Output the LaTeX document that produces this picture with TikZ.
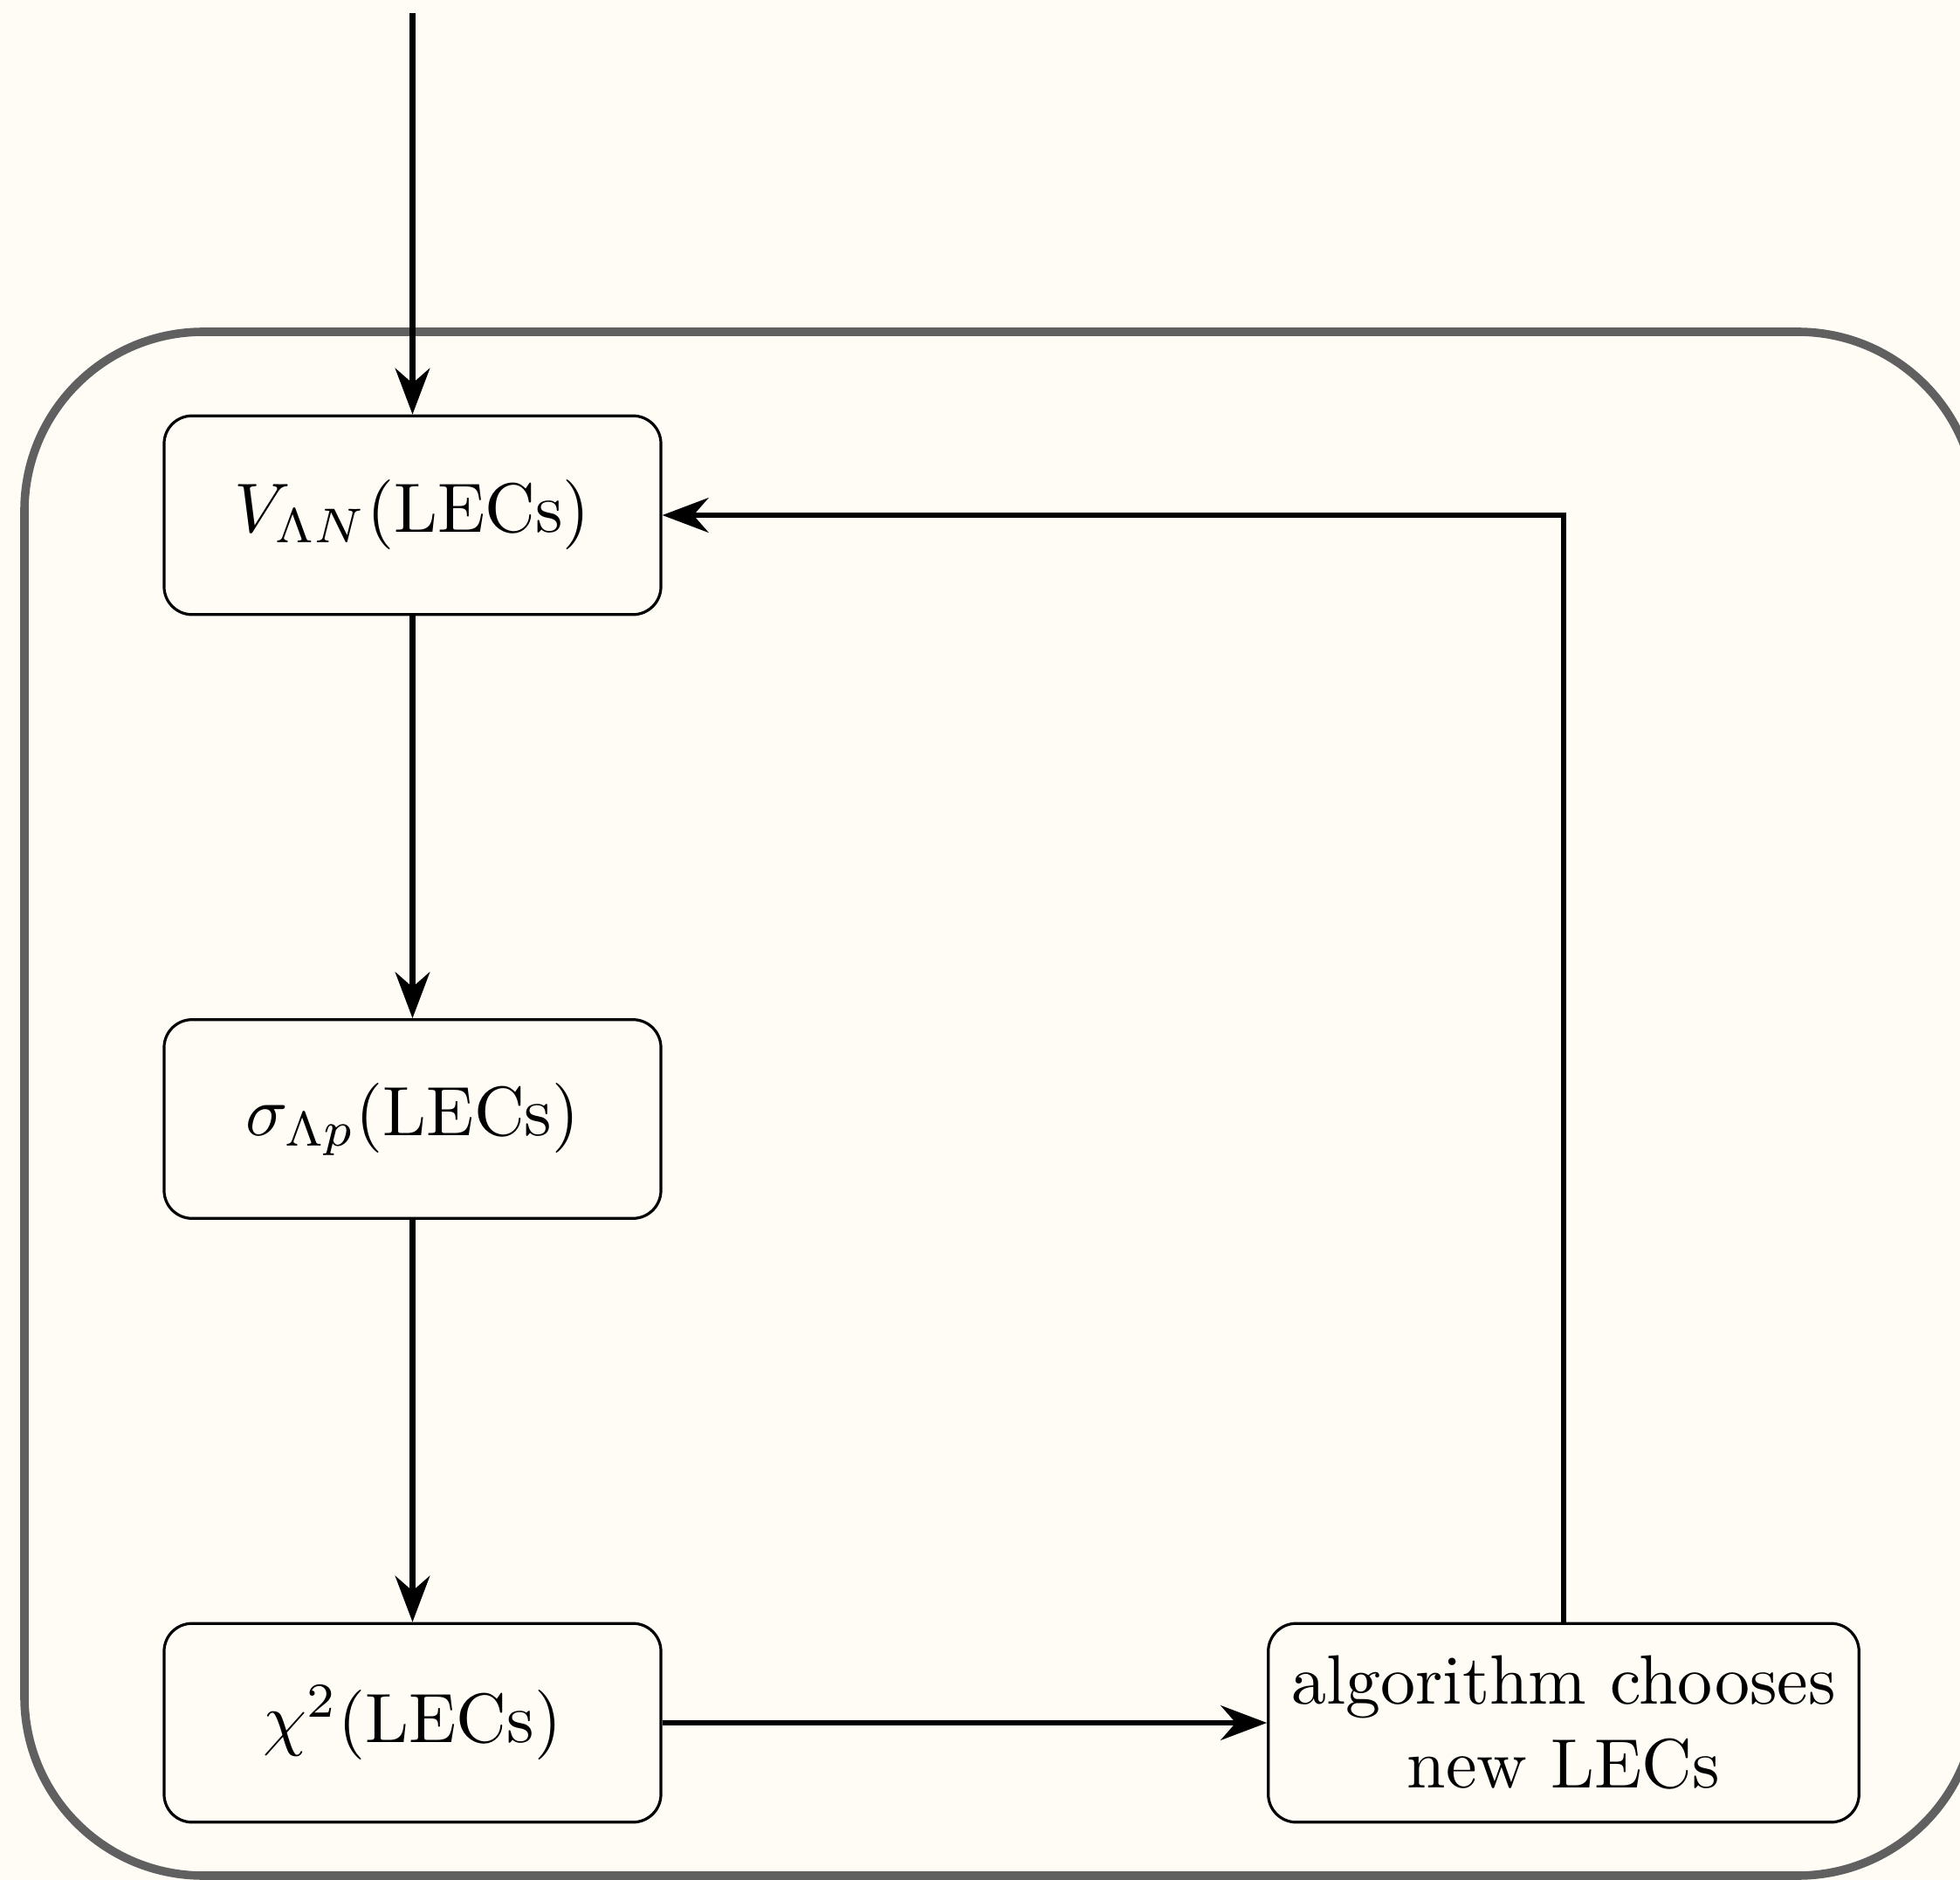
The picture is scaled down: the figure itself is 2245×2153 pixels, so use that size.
\documentclass[tikz,border=0pt]{standalone}
\usetikzlibrary{arrows.meta}
\definecolor{bgcream}{RGB}{254,252,244}
\definecolor{framegray}{RGB}{96,96,96}
\begin{document}
\begin{tikzpicture}[x=0.125pt,y=-0.125pt,
  box/.style={draw=black, line width=0.4pt, rounded corners=4pt, minimum width=2.5cm, minimum height=1cm, align=center, inner sep=0.3333em},
  flow/.style={-{Stealth}, line width=0.8pt},
  frame/.style={draw=framegray, line width=1.2pt, rounded corners=25.6pt}]
\fill[bgcream] (0,0) rectangle (2245,2153);
\useasboundingbox (0,0) rectangle (2245,2153);
\draw[frame] (28,380) rectangle (2264,2148);
\node[box] (V) at (472.5,590) {$V_{\Lambda N}(\mathrm{LECs})$};
\node[box] (S) at (472.5,1281.5) {$\sigma_{\Lambda p}(\mathrm{LECs})$};
\node[box] (C) at (472.5,1973) {$\chi^2(\mathrm{LECs})$};
\node[box] (A) at (1791,1973) {algorithm chooses\\new LECs};
\coordinate (start) at (472.5,15);
\draw[flow] (start) -- (V.north);
\draw[flow] (V) -- (S);
\draw[flow] (S) -- (C);
\draw[flow] (C) -- (A);
\draw[flow] (A.north) |- (V.east);
\end{tikzpicture}
\end{document}
